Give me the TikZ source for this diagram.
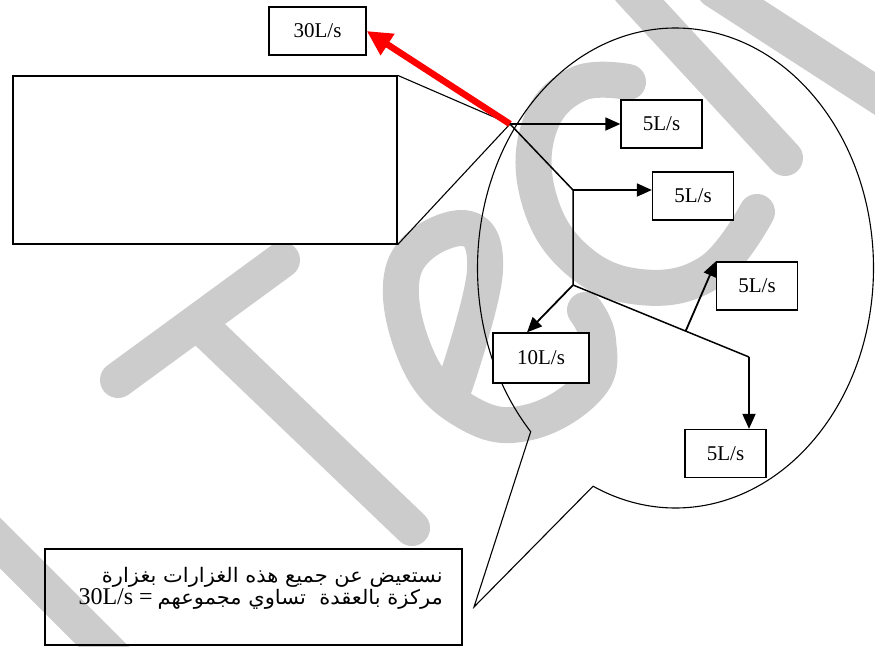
\documentclass[tikz,border=0pt]{standalone}
\usepackage{fontspec}
\setmainfont{Liberation Serif}
\newfontfamily\arabicfont[Script=Arabic, FakeStretch=1.05]{DejaVu Sans}
\TeXXeTstate=1
\usetikzlibrary{arrows.meta,calc,backgrounds}

\begin{document}
\begin{tikzpicture}[x=1pt, y=-1pt,
    flow/.style={draw, line width=1.3pt, fill=white, minimum width=81pt, minimum height=48pt,
      inner sep=0pt, font=\fontsize{21}{25}\selectfont},
    pipe/.style={line width=1.8pt, -{Triangle[length=15pt,width=13pt]}},
    branch/.style={line width=1.5pt},
    wmark/.style={line width=36pt, black!20, line cap=round, line join=round}]

    \useasboundingbox (0,0) rectangle (875,646);

    \node[flow, minimum width=97pt] (q30) at (317.5,31) {30L/s};
    \node[draw, line width=1.3pt, fill=white, minimum width=384pt, minimum height=168pt] (frame) at (205,160) {};
    \node[flow] (q5a) at (661.5,124) {5L/s};
    \node[flow] (q5b) at (693,196) {5L/s};
    \node[flow] (q5c) at (757,286) {5L/s};
    \node[flow, minimum width=96pt, minimum height=50pt] (q10) at (541,358) {10L/s};
    \node[flow] (q5d) at (725.5,453.5) {5L/s};
    \node[draw, line width=1.3pt, minimum width=417pt, minimum height=96pt] (note) at (253.5,597) {};
    \node[anchor=north east, inner sep=0pt, align=right, font=\fontsize{20}{22}\selectfont] (notetext) at (443,567)
      {{\arabicfont\beginR نستعيض عن جميع هذه الغزارات بغزارة\endR}\\
       \beginR{\arabicfont مركزة بالعقدة\ \ تساوي مجموعهم} {\fontsize{24}{22}\selectfont = \beginL 30L/s\endL}\endR};

    \coordinate (n0) at (510,124);
    \coordinate (j1) at (573,190);
    \coordinate (j2) at (573,285);
    \coordinate (j3) at (749,357);
    \coordinate (j4) at ($(j2)!0.64!(j3)$);
    \coordinate (ellc) at (675.5,268);
    \coordinate (tip) at (474,607);

    \begin{pgfonlayer}{background}
        % watermark
        \draw[wmark] (282,260) -- (118,380);
        \draw[wmark] (200,325) -- (412,528);
        \draw[wmark] (-30,513) -- (132,675);
        \draw[wmark] plot[smooth, tension=0.7] coordinates {(455,385) (485,270) (462,228) (404,268) (418,360) (470,414) (530,422) (590,385) (598,340) (585,310)};
        \draw[wmark] plot[smooth, tension=0.7] coordinates {(628,82) (578,84) (540,125) (538,195) (575,258) (640,287) (710,272) (757,212)};
        \draw[wmark] (630,-10) -- (785,158);
        \draw[wmark] (715,-10) -- (885,100);
        % bubble
        \draw[line width=1.1pt] (tip) -- ([shift={(223:198pt and 240pt)}]ellc)
            arc[start angle=223, end angle=-114.6, x radius=198pt, y radius=240pt] -- cycle;
    \end{pgfonlayer}

    \draw[line width=1.1pt] (frame.north east) -- (n0) -- (frame.south east);
    \draw[red, line width=6.5pt, -{Triangle[length=25pt,width=24pt]}] (n0) -- (q30.east);
    \draw[branch] (n0) -- (j1) -- (j2) -- (j3);
    \draw[pipe] (n0) -- (q5a.west);
    \draw[pipe] (j1) -- (j1 -| q5b.west);
    \draw[pipe] (j2) -- ([xshift=-14pt]q10.north);
    \draw[pipe] (j4) -- (q5c.north west);
    \draw[pipe] (j3) -- (j3 |- q5d.north);
\end{tikzpicture}
\end{document}
